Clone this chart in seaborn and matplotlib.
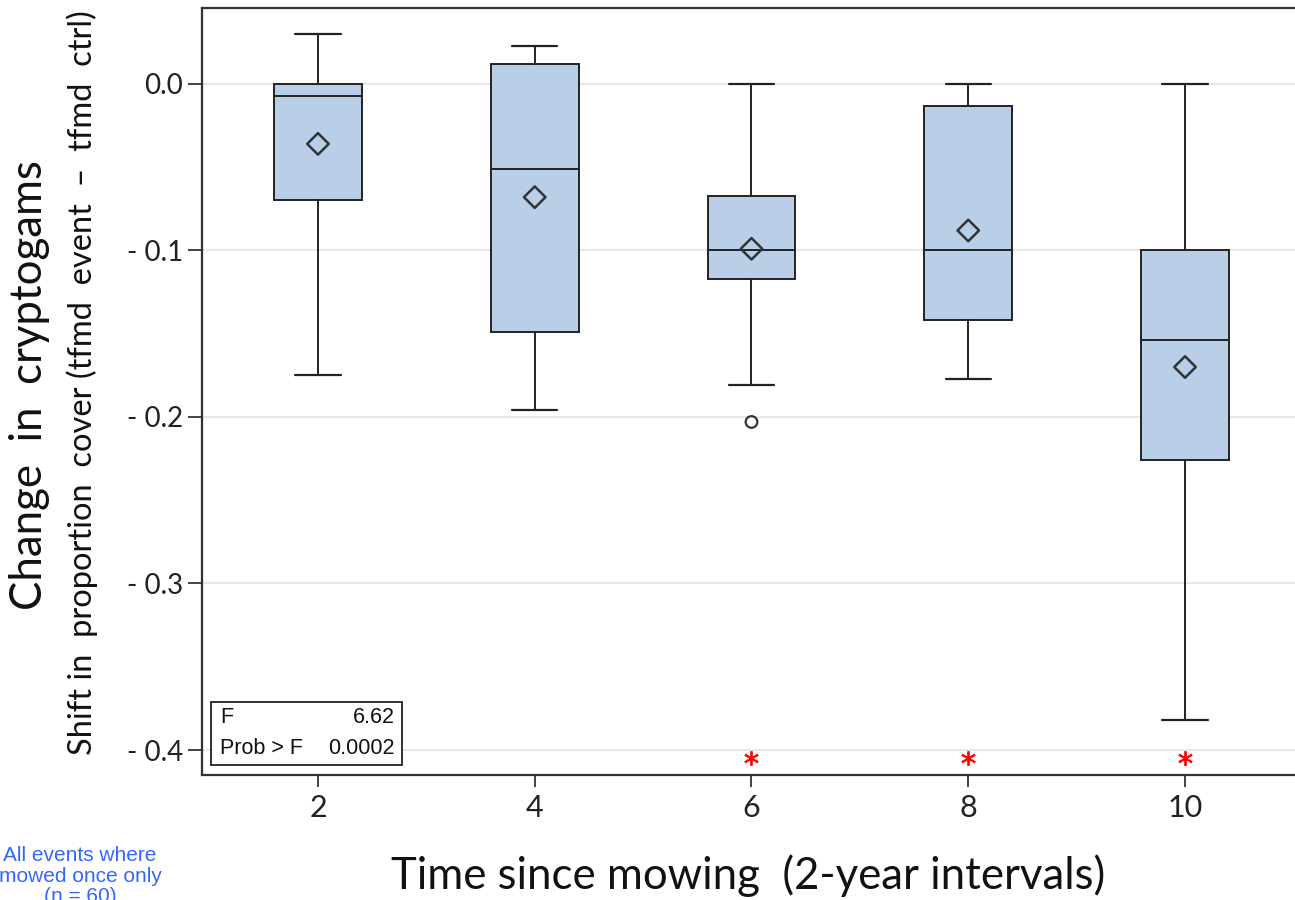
import matplotlib
matplotlib.use("Agg")
import matplotlib.pyplot as plt
import seaborn as sns
import pandas as pd
from matplotlib.patches import Rectangle

# ---- data ----
groups = [2, 4, 6, 8, 10]
whisker_hi = [0.030, 0.023, 0.000, 0.000, 0.000]
q3 = [0.000, 0.012, -0.067, -0.013, -0.100]
medians = [-0.007, -0.051, -0.100, -0.100, -0.154]
q1 = [-0.070, -0.149, -0.117, -0.142, -0.226]
whisker_lo = [-0.175, -0.196, -0.181, -0.177, -0.382]
means = [-0.036, -0.068, -0.099, -0.088, -0.170]
outlier_x = [6]
outlier_y = [-0.203]
sig_groups = [6, 8, 10]
sig_y = [-0.4045, -0.4045, -0.4045]
yticks = [0.0, -0.1, -0.2, -0.3, -0.4]
ytick_labels = ["0.0", "- 0.1", "- 0.2", "- 0.3", "- 0.4"]
xtick_labels = ["2", "4", "6", "8", "10"]
f_value = "6.62"
p_value = "0.0002"

sns.set_theme(style="white")
plt.rcParams["font.family"] = ["Lato", "DejaVu Sans"]

fig = plt.figure(figsize=(12.95, 9), dpi=100)
ax = fig.add_axes([202 / 1295, 125 / 900, 1099 / 1295, 767 / 900])

box_color = "#B8CFE7"
edge = "#222222"

stats = []
for i, g in enumerate(groups):
    stats.append(dict(med=medians[i], q1=q1[i], q3=q3[i],
                      whislo=whisker_lo[i], whishi=whisker_hi[i],
                      fliers=[], label=str(g)))

ax.bxp(stats, positions=groups, widths=0.81, capwidths=0.42,
       patch_artist=True, showfliers=False, manage_ticks=False,
       boxprops=dict(facecolor=box_color, edgecolor=edge, linewidth=1.4),
       medianprops=dict(color=edge, linewidth=1.4),
       whiskerprops=dict(color=edge, linewidth=1.4),
       capprops=dict(color=edge, linewidth=1.6), zorder=3)

mean_df = pd.DataFrame({"x": groups, "y": means})
sns.scatterplot(data=mean_df, x="x", y="y", marker="D", s=120,
                facecolor="none", edgecolor="#333333", linewidth=1.8,
                ax=ax, zorder=5)

out_df = pd.DataFrame({"x": outlier_x, "y": outlier_y})
sns.scatterplot(data=out_df, x="x", y="y", marker="o", s=70,
                facecolor="none", edgecolor="#333333", linewidth=1.6,
                ax=ax, zorder=5)

sig_df = pd.DataFrame({"x": sig_groups, "y": sig_y})
sns.scatterplot(data=sig_df, x="x", y="y", marker="$*$", s=100,
                color="red", edgecolor="red", linewidth=0.6, ax=ax, zorder=6)

ax.set_xlim(0.93, 11.07)
ax.set_ylim(-0.415, 0.0456)
ax.set_xticks(groups)
ax.set_xticklabels(xtick_labels)
ax.set_yticks(yticks)
ax.set_yticklabels(ytick_labels)
ax.tick_params(axis="both", colors="#222222", width=1.2, direction="out",
               bottom=True, left=True)
ax.tick_params(axis="x", labelsize=22, length=8.5, pad=5)
ax.tick_params(axis="y", labelsize=20, length=10, pad=3.6)
ax.yaxis.grid(True, color="#E3E3E3", linewidth=1.2, zorder=0)
ax.xaxis.grid(False)
for s in ax.spines.values():
    s.set_color("#333333")
    s.set_linewidth(1.6)
ax.set_xlabel("")
ax.set_ylabel("")

# stats box
ax.add_patch(Rectangle((0.0082, 0.013), 0.1738, 0.0822, transform=ax.transAxes,
                       fill=True, facecolor="white", edgecolor="#222222",
                       linewidth=1.3, zorder=7))
box_font = dict(family="Liberation Sans", fontsize=15.5, color="#111111",
                transform=ax.transAxes, zorder=8, va="baseline")
ax.text(0.0164, 0.0678, "F", ha="left", **box_font)
ax.text(0.1756, 0.0678, f_value, ha="right", **box_font)
ax.text(0.0164, 0.0274, "Prob > F", ha="left", **box_font)
ax.text(0.1756, 0.0274, p_value, ha="right", **box_font)

# axis titles
fig.text(748 / 1295, 1 - 876 / 900, "Time since mowing  (2-year intervals)",
         ha="center", va="center", fontsize=31.5, color="#111111")
fig.text(30 / 1295, 1 - 385 / 900, "Change  in  cryptogams", rotation=90,
         ha="center", va="center", fontsize=31.5, color="#111111")
fig.text(82 / 1295, 1 - 383 / 900,
         "Shift in  proportion  cover (tfmd  event  \u2013  tfmd  ctrl)",
         rotation=90, ha="center", va="center", fontsize=23.5, color="#111111")

fig.text(80 / 1295, 1 - 876 / 900, "All events where\nmowed once only\n(n = 60)",
         ha="center", va="center", fontsize=15, color="#3366FF",
         family="Liberation Sans", linespacing=1.1)

fig.savefig("out.png", dpi=100)
